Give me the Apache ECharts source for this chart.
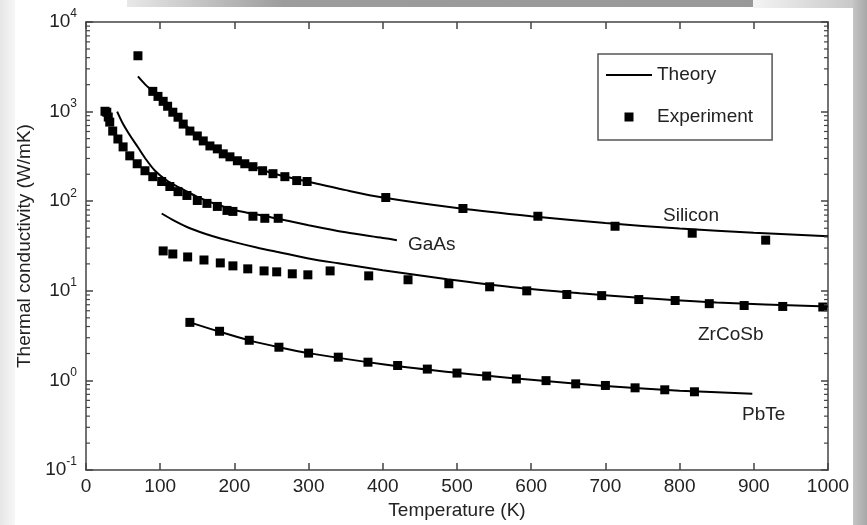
<!DOCTYPE html>
<html><head><meta charset="utf-8">
<script src="https://cdn.jsdelivr.net/npm/echarts@6/dist/echarts.min.js"></script>
<style>html,body{margin:0;padding:0;background:#fff}#c{width:867px;height:525px}</style>
</head><body><div id="c"></div>
<script>
// ---- data ----
var siliconExpX = [70, 90, 97, 104, 110, 117, 124, 131, 140, 150, 158, 167, 177, 185, 194, 204, 214, 225, 238, 252, 268, 284, 298, 404, 508, 609, 713, 817, 916];
var siliconExpY = [4200, 1683, 1479, 1303, 1148, 985, 866, 726, 607, 535, 471, 414, 384, 338, 313, 283, 262, 243, 219, 203, 188, 170, 166, 110, 83, 68, 52.6, 44, 36.8];
var siliconThX = [70, 80, 90, 100, 120, 140, 160, 180, 200, 250, 300, 350, 400, 500, 600, 700, 800, 900, 1000];
var siliconThY = [2470, 2000, 1680, 1380, 920, 640, 470, 375, 300, 207, 165, 133, 110, 84, 68, 57, 49.5, 44.5, 40.8];

var gaasExpX = [25.6, 28, 30, 32, 36, 43, 50, 59, 69, 79.5, 90, 102, 113, 124, 136, 150, 163, 177, 190, 198, 225, 241, 259];
var gaasExpY = [1009, 985, 870, 764, 607, 495, 404, 321, 262, 219, 188, 166, 146, 128, 116, 102, 94.6, 87.5, 79, 77, 68, 64.5, 64.5];
var gaasThX = [42, 50, 60, 70, 80, 93, 109, 123, 150, 175, 200, 250, 300, 350, 400, 419];
var gaasThY = [1000, 726, 530, 400, 300, 219, 170, 146, 112, 93, 80, 66, 54, 45, 39, 36.8];

var zrExpX = [104, 117, 137, 159, 181, 198, 218, 240, 257, 278, 299, 329, 381, 434, 489, 544, 594, 648, 695, 745, 794, 840, 887, 939, 993];
var zrExpY = [27.9, 25.8, 23.9, 22.1, 20.5, 19.0, 17.6, 16.7, 16.3, 15.5, 15.1, 16.7, 14.7, 13.3, 12.0, 11.1, 10.0, 9.1, 8.85, 8.0, 7.8, 7.2, 6.86, 6.7, 6.6];
var zrThX = [102, 120, 140, 170, 200, 230, 260, 300, 340, 400, 487, 575, 666, 750, 850, 1000];
var zrThY = [73, 60, 50, 41, 35, 30.5, 27, 23, 20.3, 17, 13.5, 11.0, 9.4, 8.3, 7.4, 6.7];

var pbteExpX = [140, 180, 220, 260, 300, 340, 380, 420, 460, 500, 540, 580, 620, 660, 700, 740, 780, 820];
var pbteExpY = [4.45, 3.54, 2.81, 2.35, 2.02, 1.82, 1.6, 1.47, 1.34, 1.21, 1.12, 1.04, 0.996, 0.917, 0.88, 0.828, 0.787, 0.748];
var pbteThX = [140, 180, 220, 260, 300, 400, 500, 600, 700, 800, 898];
var pbteThY = [4.45, 3.5, 2.8, 2.35, 2.02, 1.52, 1.22, 1.02, 0.87, 0.77, 0.71];

var xTicks = [0, 100, 200, 300, 400, 500, 600, 700, 800, 900, 1000];
var yDecades = [0.1, 1, 10, 100, 1000, 10000];
var curveLabels = [
  {text: 'Silicon', x: 663, y: 216},
  {text: 'GaAs', x: 408, y: 245},
  {text: 'ZrCoSb', x: 698, y: 335},
  {text: 'PbTe', x: 742, y: 415}
];

// ---- build ----
function pairs(xs, ys) { return xs.map(function (x, i) { return [x, ys[i]]; }); }
var FONT = '"Liberation Sans", Arial, Helvetica, sans-serif';
var AX = '#444';
var TXT = '#222';

var minorVals = [];
for (var k = 0; k < yDecades.length - 1; k++) {
  for (var m = 2; m <= 9; m++) minorVals.push(m * yDecades[k]);
}

var chart = echarts.init(document.getElementById('c'), null, {renderer: 'canvas'});

function lineSeries(xs, ys) {
  return {type: 'line', name: 'Theory', data: pairs(xs, ys), symbol: 'none', showSymbol: false,
    smooth: 0.3, lineStyle: {color: '#000', width: 2}, itemStyle: {color: '#000'}, z: 3};
}
function scatterSeries(xs, ys) {
  return {type: 'scatter', name: 'Experiment', data: pairs(xs, ys), symbol: 'rect', symbolSize: 9,
    itemStyle: {color: '#000', opacity: 1}, z: 4};
}

var labelGraphics = curveLabels.map(function (l) {
  return {type: 'text', left: l.x, top: l.y - 10, style: {text: l.text, font: '19px ' + FONT, fill: TXT}, z: 10};
});

var decor = [
  {type: 'rect', left: 0, top: 0, shape: {width: 15, height: 525}, z: -10,
    style: {fill: new echarts.graphic.LinearGradient(0, 0, 1, 0, [{offset: 0, color: '#e6e6e6'}, {offset: 1, color: '#f7f7f7'}])}},
  {type: 'rect', left: 127, top: 0, shape: {width: 626, height: 7}, z: -10,
    style: {fill: new echarts.graphic.LinearGradient(0, 0, 1, 0, [{offset: 0, color: '#e8e8e8'}, {offset: 0.25, color: '#9c9c9c'}, {offset: 1, color: '#999'}])}},
  {type: 'rect', left: 753, top: 0, shape: {width: 100, height: 8}, z: -10,
    style: {fill: new echarts.graphic.LinearGradient(0, 0, 1, 0, [{offset: 0, color: '#f4f4f4'}, {offset: 1, color: '#c8c8c8'}])}},
  {type: 'rect', left: 853, top: 0, shape: {width: 14, height: 525}, z: -10,
    style: {fill: new echarts.graphic.LinearGradient(0, 0, 1, 0, [{offset: 0, color: '#c4c4c4'}, {offset: 1, color: '#a8a8a8'}])}}
];

var option = {
  animation: false,
  backgroundColor: '#fff',
  textStyle: {fontFamily: FONT},
  grid: {left: 86, right: 39, top: 22, bottom: 51, containLabel: false},
  legend: {
    data: [{name: 'Theory', icon: 'path://M0,0H46V2H0Z'}, {name: 'Experiment', icon: 'path://M0,0H10V10H0Z'}],
    orient: 'vertical', left: 598, top: 54, padding: [11, 19, 13, 8], itemGap: 22,
    itemWidth: 46, itemHeight: 9, symbolKeepAspect: true,
    borderColor: '#555', borderWidth: 1.5, backgroundColor: '#fff',
    itemStyle: {color: '#000', opacity: 1},
    textStyle: {fontSize: 19, color: TXT, fontFamily: FONT, lineHeight: 20}
  },
  xAxis: [
    {type: 'value', min: 0, max: 1000, interval: 100, position: 'bottom',
      name: 'Temperature (K)', nameLocation: 'middle', nameGap: 29,
      nameTextStyle: {fontSize: 19, color: TXT, fontFamily: FONT},
      axisLine: {show: true, onZero: false, lineStyle: {color: AX, width: 1.5}},
      axisTick: {show: true, inside: true, length: 7, lineStyle: {color: AX, width: 1.5}},
      axisLabel: {fontSize: 19, color: TXT, margin: 7, fontFamily: FONT,
        formatter: function (v) { return xTicks.indexOf(v) >= 0 ? String(v) : ''; }},
      splitLine: {show: false}},
    {type: 'value', min: 0, max: 1000, interval: 100, position: 'top',
      axisLine: {show: true, onZero: false, lineStyle: {color: AX, width: 1.5}},
      axisTick: {show: true, inside: true, length: 7, lineStyle: {color: AX, width: 1.5}},
      axisLabel: {show: false}, splitLine: {show: false}}
  ],
  yAxis: [
    {type: 'log', logBase: 10, min: 0.1, max: 10000, position: 'left',
      name: 'Thermal conductivity (W/mK)', nameLocation: 'middle', nameGap: 50,
      nameTextStyle: {fontSize: 19, color: TXT, fontFamily: FONT},
      axisLine: {show: true, onZero: false, lineStyle: {color: AX, width: 1.5}},
      axisTick: {show: true, inside: true, length: 7, lineStyle: {color: AX, width: 1.5}},
      axisLabel: {margin: 9, color: TXT,
        formatter: function (v) { return '{b|10}{s|' + Math.round(Math.log10(v)) + '}'; },
        rich: {b: {fontSize: 19, color: TXT, fontFamily: FONT},
               s: {fontSize: 12, color: TXT, fontFamily: FONT, verticalAlign: 'top', padding: [0, 0, 16, 0]}}},
      splitLine: {show: false}},
    {type: 'log', logBase: 10, min: 0.1, max: 10000, position: 'right',
      axisLine: {show: true, onZero: false, lineStyle: {color: AX, width: 1.5}},
      axisTick: {show: true, inside: true, length: 7, lineStyle: {color: AX, width: 1.5}},
      axisLabel: {show: false}, splitLine: {show: false}}
  ],
  graphic: decor.concat(labelGraphics),
  series: [
    {type: 'custom', name: 'minorTicks', silent: true, z: 5,
      data: minorVals.map(function (v) { return [0, v]; }),
      renderItem: function (params, api) {
        var v = api.value(1);
        var pl = api.coord([0, v]);
        var pr = api.coord([1000, v]);
        var st = {stroke: AX, lineWidth: 1.2};
        return {type: 'group', children: [
          {type: 'line', shape: {x1: pl[0], y1: pl[1], x2: pl[0] + 4, y2: pl[1]}, style: st},
          {type: 'line', shape: {x1: pr[0] - 4, y1: pr[1], x2: pr[0], y2: pr[1]}, style: st}
        ]};
      }},
    lineSeries(siliconThX, siliconThY),
    lineSeries(gaasThX, gaasThY),
    lineSeries(zrThX, zrThY),
    lineSeries(pbteThX, pbteThY),
    scatterSeries(siliconExpX, siliconExpY),
    scatterSeries(gaasExpX, gaasExpY),
    scatterSeries(zrExpX, zrExpY),
    scatterSeries(pbteExpX, pbteExpY)
  ]
};
chart.setOption(option);
</script>
</body></html>
